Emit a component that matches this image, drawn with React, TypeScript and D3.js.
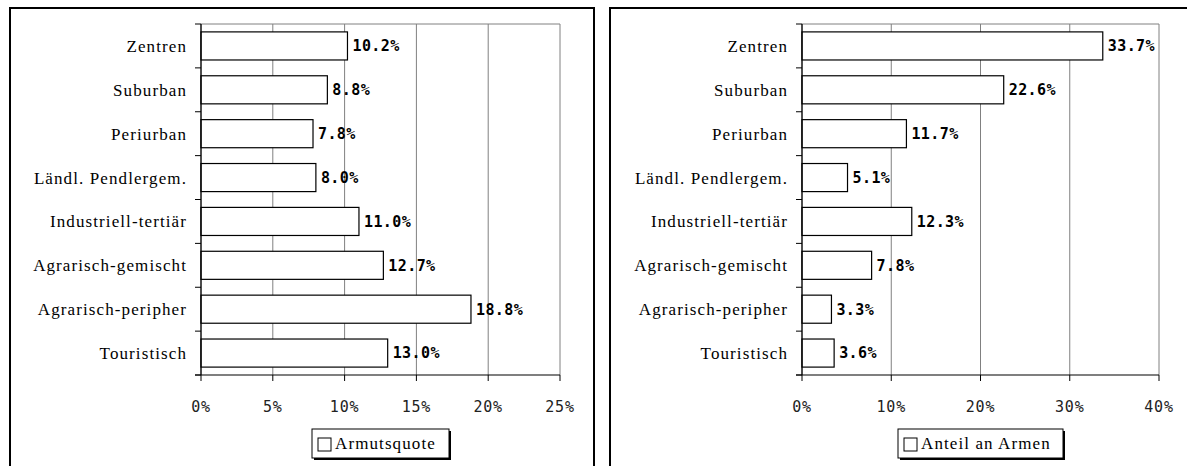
import React from "react";
import * as d3 from "d3";

const categories = [
  "Zentren",
  "Suburban",
  "Periurban",
  "Ländl. Pendlergem.",
  "Industriell-tertiär",
  "Agrarisch-gemischt",
  "Agrarisch-peripher",
  "Touristisch",
];
const armutsquote = [10.2, 8.8, 7.8, 8.0, 11.0, 12.7, 18.8, 13.0];
const anteilArmen = [33.7, 22.6, 11.7, 5.1, 12.3, 7.8, 3.3, 3.6];
const ticksLeft = [0, 5, 10, 15, 20, 25];
const ticksRight = [0, 10, 20, 30, 40];
const legendLeft = "Armutsquote";
const legendRight = "Anteil an Armen";

const W = 1187;
const H = 466;

const catFont = "'Liberation Serif', 'DejaVu Serif', serif";
const tickFont = "'DejaVu Sans Mono', 'Liberation Mono', monospace";

type PanelProps = {
  frameX: number;
  frameW: number;
  x0: number;
  x1: number;
  max: number;
  ticks: number[];
  values: number[];
  legend: string;
  legendW: number;
};

function Panel({ frameX, frameW, x0, x1, max, ticks, values, legend, legendW }: PanelProps) {
  const top = 24;
  const bottom = 375;
  const x = d3.scaleLinear().domain([0, max]).range([x0, x1]);
  const y = d3
    .scaleBand<string>()
    .domain(categories)
    .range([top, bottom])
    .paddingInner(0.36)
    .paddingOuter(0.18);
  const step = y.step();
  const boundaries = d3.range(categories.length + 1).map((i) => top + i * step);
  const legendCx = (x0 + x1) / 2;
  const lx = legendCx - legendW / 2;
  const ly = 429;
  const lh = 29;
  return (
    <g>
      <rect x={frameX} y={8} width={frameW} height={H + 20} fill="white" stroke="#000" strokeWidth={2} />
      {/* plot top border */}
      <line x1={x0} x2={x1} y1={top} y2={top} stroke="#808080" strokeWidth={1} />
      {/* gridlines */}
      {ticks.map((t) => (
        <line key={"g" + t} x1={x(t)} x2={x(t)} y1={top} y2={bottom} stroke="#808080" strokeWidth={1} />
      ))}
      {/* bars */}
      {categories.map((c, i) => (
        <rect
          key={c}
          x={x(0)}
          y={y(c)}
          width={x(values[i]) - x(0)}
          height={y.bandwidth()}
          fill="white"
          stroke="#000"
          strokeWidth={1.2}
        />
      ))}
      {/* value labels */}
      {categories.map((c, i) => (
        <text
          key={"v" + c}
          x={x(values[i]) + 5}
          y={(y(c) as number) + y.bandwidth() / 2}
          dy="0.36em"
          fontFamily={tickFont}
          fontWeight="bold"
          fontSize={15}
          letterSpacing={0.4}
          fill="#000"
        >
          {d3.format(".1f")(values[i]) + "%"}
        </text>
      ))}
      {/* y axis */}
      <line x1={x0} x2={x0} y1={top} y2={bottom} stroke="#000" strokeWidth={1.2} />
      {boundaries.map((b, i) => (
        <line key={"yt" + i} x1={x0 - 6} x2={x0} y1={b} y2={b} stroke="#000" strokeWidth={1} />
      ))}
      {categories.map((c) => (
        <text
          key={"l" + c}
          x={x0 - 14}
          y={(y(c) as number) + y.bandwidth() / 2}
          dy="0.35em"
          textAnchor="end"
          fontFamily={catFont}
          fontSize={17}
          letterSpacing={1.1}
          fill="#000"
        >
          {c}
        </text>
      ))}
      {/* x axis */}
      <line x1={x0 - 6} x2={x1} y1={bottom} y2={bottom} stroke="#000" strokeWidth={1.2} />
      {ticks.map((t) => (
        <g key={"xt" + t}>
          <line x1={x(t)} x2={x(t)} y1={bottom} y2={bottom + 6} stroke="#000" strokeWidth={1} />
          <text
            x={x(t)}
            y={407}
            dy="0.35em"
            textAnchor="middle"
            fontFamily={tickFont}
            fontSize={15}
            letterSpacing={0.8}
            fill="#222"
          >
            {t + "%"}
          </text>
        </g>
      ))}
      {/* legend */}
      <rect x={lx + 2} y={ly + 2} width={legendW} height={lh} fill="#000" />
      <rect x={lx} y={ly} width={legendW} height={lh} fill="white" stroke="#000" strokeWidth={1} />
      <rect x={lx + 6} y={ly + 9} width={13} height={13} fill="white" stroke="#000" strokeWidth={1} />
      <text
        x={lx + 23}
        y={ly + lh / 2}
        dy="0.35em"
        fontFamily={catFont}
        fontSize={17}
        letterSpacing={1.1}
        fill="#000"
      >
        {legend}
      </text>
    </g>
  );
}

export default function App() {
  return (
    <svg
      width={W}
      height={H}
      style={{ position: "absolute", left: 0, top: 0, background: "white" }}
    >
      <rect x={0} y={0} width={W} height={H} fill="white" />
      <Panel
        frameX={10}
        frameW={584}
        x0={201}
        x1={560}
        max={25}
        ticks={ticksLeft}
        values={armutsquote}
        legend={legendLeft}
        legendW={137}
      />
      <Panel
        frameX={610}
        frameW={600}
        x0={802}
        x1={1159}
        max={40}
        ticks={ticksRight}
        values={anteilArmen}
        legend={legendRight}
        legendW={165}
      />
    </svg>
  );
}
